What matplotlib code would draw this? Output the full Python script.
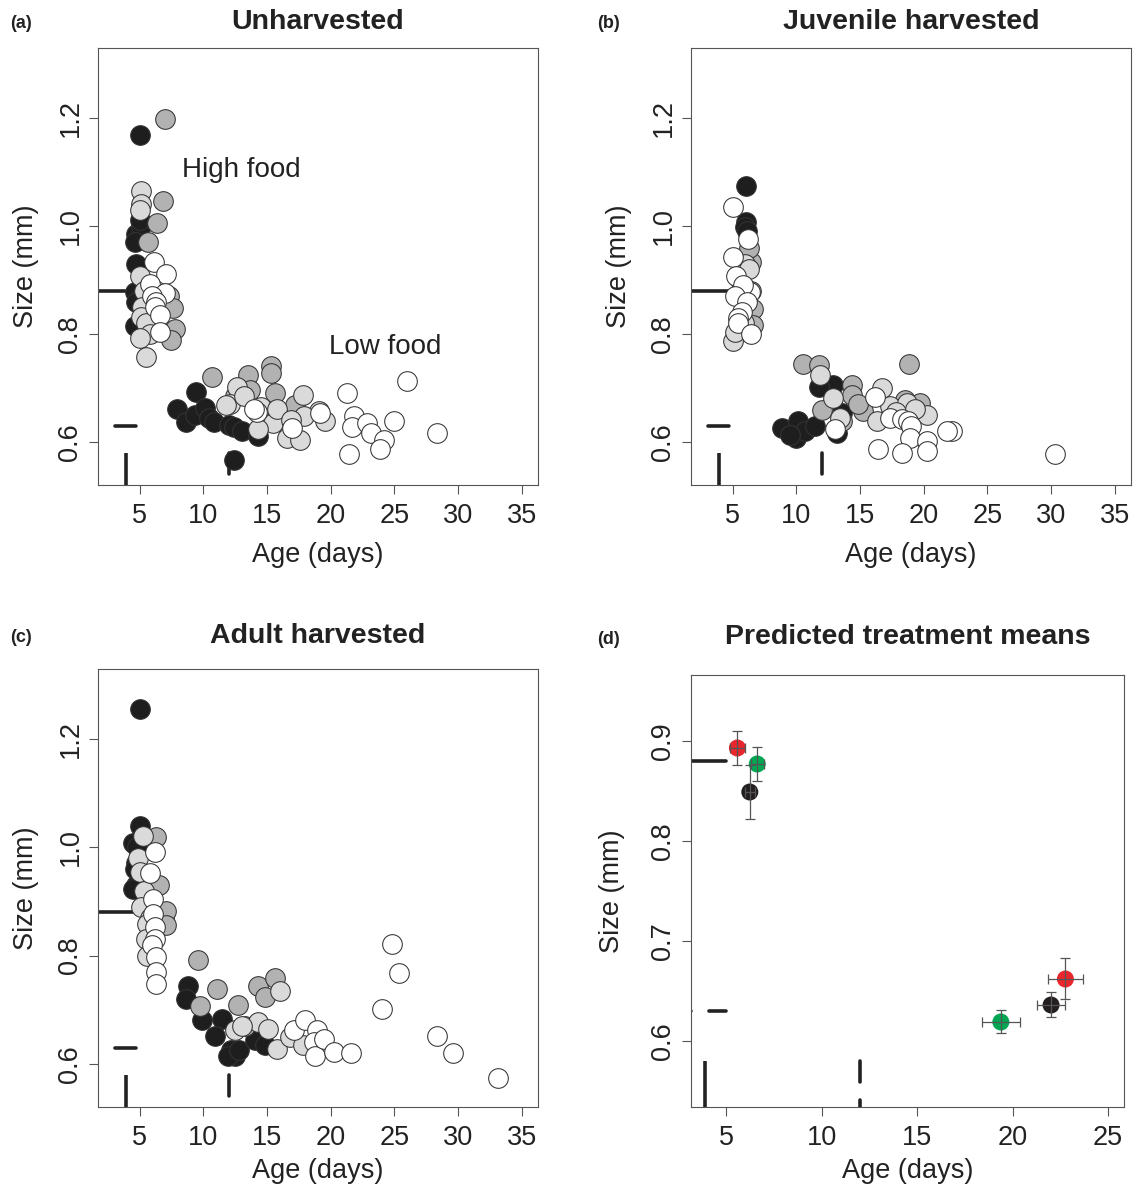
import matplotlib
matplotlib.use("Agg")
import matplotlib.pyplot as plt

plt.rcParams['font.family'] = ['Liberation Sans', 'DejaVu Sans']

W, H = 1136, 1185
INK = '#222222'
FRAME = '#555555'
FS = 19.5

COL_BLACK = '#1e1e1e'
COL_GRAY = '#b2b2b2'
COL_LGRAY = '#dadada'
COL_WHITE = '#ffffff'

# ---- (a) Unharvested ----
a_black_age = [5.0, 4.7, 4.9, 5.1, 5.0, 4.6, 4.7, 4.6, 4.7, 4.6,
               7.9, 8.6, 9.4, 9.3, 10.1, 10.4, 10.8, 12.0, 12.4, 13.0, 14.3, 12.4]
a_black_size = [1.169, 0.985, 0.975, 1.0, 1.012, 0.97, 0.93, 0.878, 0.86, 0.814,
                0.660, 0.636, 0.693, 0.650, 0.662, 0.645, 0.636, 0.632, 0.627, 0.621, 0.611, 0.567]
a_gray_age = [7.0, 6.84, 6.39, 5.65, 7.3, 7.62, 7.75, 7.49,
              10.64, 13.5, 15.3, 15.3, 15.6, 13.66, 17.2, 12.5]
a_gray_size = [1.198, 1.046, 1.005, 0.97, 0.87, 0.848, 0.810, 0.789,
               0.721, 0.724, 0.740, 0.727, 0.690, 0.696, 0.668, 0.685]
a_lgray_age = [5.13, 5.13, 5.0, 5.0, 5.3, 5.2, 5.13, 5.5, 5.8, 5.0, 5.52,
               12.6, 12.09, 17.86, 19.04, 19.56, 15.5, 14.3, 16.55, 17.6, 17.9, 13.2, 14.5, 15.8, 16.9, 11.8]
a_lgray_size = [1.065, 1.040, 1.03, 0.908, 0.88, 0.85, 0.832, 0.82, 0.80, 0.792, 0.758,
                0.702, 0.671, 0.687, 0.657, 0.638, 0.635, 0.623, 0.607, 0.604, 0.647, 0.685, 0.665, 0.66, 0.64, 0.668]
a_white_age = [6.13, 7.1, 5.79, 6.97, 6.0, 6.31, 6.2, 6.57, 6.57,
               14.19, 14.0, 16.94, 19.17, 21.27, 26.0, 21.8, 21.67, 22.85, 23.2, 24.2, 23.9, 21.4, 24.95, 28.36]
a_white_size = [0.934, 0.911, 0.893, 0.875, 0.87, 0.860, 0.85, 0.835, 0.804,
                0.656, 0.66, 0.626, 0.654, 0.690, 0.712, 0.647, 0.627, 0.635, 0.616, 0.604, 0.586, 0.577, 0.639, 0.616]

# ---- (b) Juvenile harvested ----
b_black_age = [6.02, 6.02, 5.95, 6.1,
               12.9, 11.8, 13.56, 8.83, 10.14, 10.0, 10.67, 11.46, 9.5, 13.2]
b_black_size = [1.075, 1.007, 0.998, 0.99,
                0.705, 0.702, 0.654, 0.625, 0.638, 0.608, 0.62, 0.630, 0.612, 0.616]
b_gray_age = [6.47, 6.3, 6.4, 6.6, 6.6,
              10.49, 11.8, 14.34, 14.34, 11.98, 13.56, 15.26, 18.88, 19.72, 14.8, 18.5]
b_gray_size = [0.933, 0.96, 0.88, 0.847, 0.817,
               0.744, 0.743, 0.705, 0.687, 0.659, 0.638, 0.657, 0.744, 0.672, 0.67, 0.678]
b_lgray_age = [5.03, 5.2, 6.0, 5.6, 6.3, 5.9,
               11.85, 12.9, 16.7, 17.36, 16.3, 18.67, 20.25, 13.4, 17.8, 19.3]
b_lgray_size = [0.786, 0.804, 0.93, 0.9, 0.92, 0.82,
                0.724, 0.681, 0.699, 0.666, 0.638, 0.672, 0.65, 0.645, 0.655, 0.66]
b_white_age = [5.03, 6.21, 5.03, 5.24, 6.34, 5.8, 5.2, 6.1, 5.7, 5.42, 5.4, 6.47,
               13.03, 16.18, 17.36, 18.3, 18.8, 19.0, 18.93, 20.25, 22.2, 21.82, 16.44, 18.28, 20.25, 30.3]
b_white_size = [1.035, 0.976, 0.942, 0.908, 0.878, 0.89, 0.87, 0.86, 0.84, 0.829, 0.82, 0.80,
                0.623, 0.684, 0.644, 0.642, 0.638, 0.63, 0.608, 0.602, 0.62, 0.62, 0.586, 0.580, 0.583, 0.577]

# ---- (c) Adult harvested ----
c_black_age = [5.0, 5.0, 4.48, 4.8, 4.7, 4.6, 4.7, 4.48,
               8.75, 8.67, 9.86, 11.43, 10.9, 12.2, 12.5, 11.9, 12.8, 14.05, 14.8]
c_black_size = [1.256, 1.040, 1.009, 1.0, 0.972, 0.96, 0.93, 0.923,
                0.743, 0.720, 0.680, 0.683, 0.652, 0.625, 0.615, 0.615, 0.625, 0.643, 0.635]
c_gray_age = [6.3, 6.5, 6.9, 7.1, 7.1,
              9.54, 11.04, 9.73, 12.69, 14.32, 15.63, 14.84, 13.3]
c_gray_size = [1.02, 0.93, 0.87, 0.883, 0.856,
               0.792, 0.739, 0.706, 0.708, 0.743, 0.758, 0.723, 0.67]
c_lgray_age = [5.26, 4.87, 5.0, 5.3, 5.1, 5.8, 5.6, 5.5, 5.6,
               12.48, 16.0, 14.32, 15.1, 15.76, 16.8, 13.0, 17.8]
c_lgray_size = [1.021, 0.981, 0.954, 0.92, 0.889, 0.87, 0.859, 0.831, 0.80,
                0.663, 0.734, 0.677, 0.665, 0.628, 0.65, 0.67, 0.635]
c_white_age = [6.18, 5.79, 6.05, 6.05, 6.18, 6.18, 6.0, 6.31, 6.31, 6.31,
               17.15, 17.99, 18.9, 18.65, 18.78, 19.5, 20.22, 21.6, 24.8, 25.34, 24.03, 28.36, 29.6, 33.1]
c_white_size = [0.991, 0.952, 0.905, 0.877, 0.853, 0.831, 0.82, 0.797, 0.770, 0.748,
                0.662, 0.680, 0.662, 0.640, 0.614, 0.645, 0.622, 0.619, 0.822, 0.767, 0.702, 0.651, 0.620, 0.573]

# ---- (d) Predicted treatment means ----
d_age = [5.59, 6.63, 6.24, 19.39, 22.02, 22.77]
d_size = [0.893, 0.877, 0.849, 0.619, 0.636, 0.662]
d_age_err = [0.38, 0.35, 0.25, 0.99, 0.72, 0.92]
d_size_err = [0.017, 0.017, 0.027, 0.0115, 0.0125, 0.0205]
d_colors = ['#e8262b', '#00a651', '#231f20', '#00a651', '#231f20', '#e8262b']

# reference marks
REF_SIZE_HIGH = 0.88
REF_SIZE_LOW = 0.63
REF_AGE_HIGH = 3.9
REF_AGE_LOW = 12.0
REF_TOP = 0.58
DASH = (0, (5.8, 5.0))


def add_axes_px(left, top, right, bottom):
    return plt.gcf().add_axes([left / W, 1 - bottom / H, (right - left) / W, (bottom - top) / H])


def ref_lines(ax):
    kw = dict(color=INK, lw=2.6, solid_capstyle='round', dash_capstyle='round', zorder=1)
    ax.plot([0, 5], [REF_SIZE_HIGH, REF_SIZE_HIGH], **kw)
    ax.plot([0, 5], [REF_SIZE_LOW, REF_SIZE_LOW], ls=DASH, **kw)
    ax.plot([REF_AGE_HIGH, REF_AGE_HIGH], [0, REF_TOP], solid_capstyle='butt',
            color=INK, lw=2.6, zorder=1)
    ax.plot([REF_AGE_LOW, REF_AGE_LOW], [REF_TOP, 0], ls=DASH, **kw)


def style_axes(ax, xlim, ylim, xticks, yticks, ylab_px, xlab_px):
    ax.set_xlim(*xlim)
    ax.set_ylim(*ylim)
    ax.set_xticks(xticks)
    ax.set_xticklabels([str(v) for v in xticks])
    ax.set_yticks(yticks)
    ax.set_yticklabels([f"{v:.1f}" for v in yticks])
    for sp in ax.spines.values():
        sp.set_color(FRAME)
        sp.set_linewidth(0.8)
    ax.tick_params(direction='out', length=6.5, width=0.8, color=FRAME,
                   labelcolor=INK, labelsize=FS, pad=4)
    ax.tick_params(axis='x', pad=6.5)
    plt.setp(ax.get_yticklabels(), rotation=90, va='center')
    bb = ax.get_position()
    wpx, hpx = bb.width * W, bb.height * H
    ax.set_xlabel("Age (days)", fontsize=FS, color=INK, va='center')
    ax.set_ylabel("Size (mm)", fontsize=FS, color=INK, va='center')
    ax.xaxis.set_label_coords(0.5, -xlab_px / hpx)
    ax.yaxis.set_label_coords(-ylab_px / wpx, 0.5)


def scatter_panel(ax, groups, xlab_px=70):
    ref_lines(ax)
    for z, (age, size, col) in enumerate(groups):
        ax.scatter(age, size, s=200, facecolor=col, edgecolor='#333333',
                   linewidths=0.75, zorder=2 + z)
    style_axes(ax, (1.72, 36.28), (0.52, 1.33), [5, 10, 15, 20, 25, 30, 35],
               [0.6, 0.8, 1.0, 1.2], 72, xlab_px)


def headers(x_center, y_center, label_x, title, tag):
    fig.text(x_center / W, 1 - y_center / H, title, fontsize=20.5, fontweight='bold',
             color=INK, ha='center', va='center')
    fig.text(label_x / W, 1 - (y_center + 2) / H, tag, fontsize=13, fontweight='bold',
             color=INK, ha='left', va='center')


fig = plt.figure(figsize=(W / 100, H / 100), dpi=100)

ax_a = add_axes_px(98, 48, 538, 485)
scatter_panel(ax_a, [(a_black_age, a_black_size, COL_BLACK),
                     (a_gray_age, a_gray_size, COL_GRAY),
                     (a_lgray_age, a_lgray_size, COL_LGRAY),
                     (a_white_age, a_white_size, COL_WHITE)])
ax_a.text(12.95, 1.104, "High food", fontsize=FS + 0.5, color=INK, ha='center', va='center')
ax_a.text(24.3, 0.776, "Low food", fontsize=FS + 0.5, color=INK, ha='center', va='center')

ax_b = add_axes_px(691, 48, 1131, 485)
scatter_panel(ax_b, [(b_black_age, b_black_size, COL_BLACK),
                     (b_gray_age, b_gray_size, COL_GRAY),
                     (b_lgray_age, b_lgray_size, COL_LGRAY),
                     (b_white_age, b_white_size, COL_WHITE)])

ax_c = add_axes_px(98, 669, 538, 1107)
scatter_panel(ax_c, [(c_black_age, c_black_size, COL_BLACK),
                     (c_gray_age, c_gray_size, COL_GRAY),
                     (c_lgray_age, c_lgray_size, COL_LGRAY),
                     (c_white_age, c_white_size, COL_WHITE)], xlab_px=64)

ax_d = add_axes_px(691, 675, 1124, 1107)
ref_lines(ax_d)
ax_d.scatter(d_age, d_size, s=150, c=d_colors, linewidths=0, zorder=3)
ax_d.errorbar(d_age, d_size, xerr=d_age_err, yerr=d_size_err, fmt='none',
              ecolor='#555555', elinewidth=0.9, capsize=3.5, capthick=0.9, zorder=4)
style_axes(ax_d, (3.16, 25.84), (0.534, 0.966), [5, 10, 15, 20, 25],
           [0.6, 0.7, 0.8, 0.9], 79, 64)

headers(318, 22, 10, "Unharvested", "(a)")
headers(911, 22, 597, "Juvenile harvested", "(b)")
headers(318, 636, 10, "Adult harvested", "(c)")
headers(908, 637, 597, "Predicted treatment means", "(d)")

fig.savefig("out.png", dpi=100)
